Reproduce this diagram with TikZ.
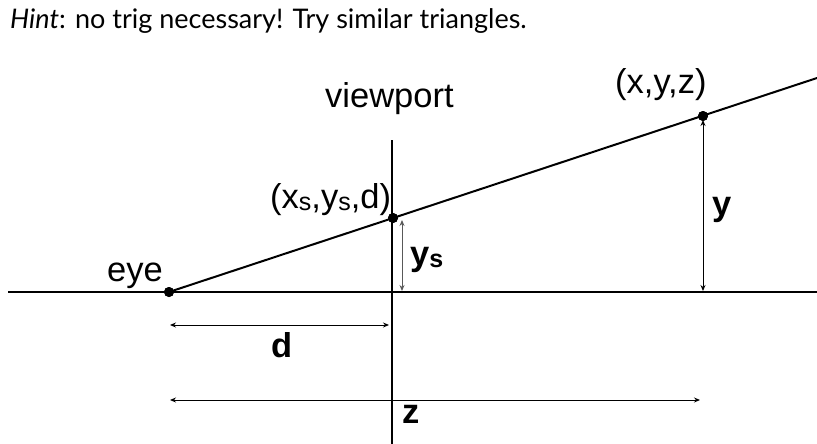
\documentclass[tikz,border=0pt]{standalone}
\usepackage{fontspec}
\setmainfont{Liberation Sans}
\newfontfamily\hintfont{Lato}
\usetikzlibrary{arrows.meta}
\begin{document}
\begin{tikzpicture}[x=1pt,y=-1pt,
  mainline/.style={line width=2pt,black},
  dimline/.style={line width=0.9pt,black,{Stealth[length=6pt,width=5pt]}-{Stealth[length=6pt,width=5pt]}},
  dot/.style={circle,fill=black,inner sep=0pt,minimum size=10pt},
  lbl/.style={inner sep=0pt,font=\fontsize{34.5}{38}\selectfont},
  blbl/.style={inner sep=0pt,font=\fontsize{34.5}{38}\selectfont\bfseries}]
\useasboundingbox (0,0) rectangle (817,444);
% axes
\coordinate (axL) at (8,292);
\coordinate (axR) at (817,292);
\coordinate (vpT) at (392,140);
\coordinate (vpB) at (392,444);
\draw[mainline] (axL) -- (axR);
\draw[mainline] (vpT) -- (vpB);
% ray
\node[dot] (eye) at (169,292) {};
\node[dot] (ps) at (393,218) {};
\node[dot] (p) at (703,116) {};
\coordinate (rayEnd) at (817,78);
\draw[mainline] (eye.center) -- (rayEnd);
\node[dot] at (eye) {};
\node[dot] at (ps) {};
\node[dot] at (p) {};
% dimension arrows
\coordinate (ysT) at (402,220);
\coordinate (ysB) at (402,291);
\draw[dimline,draw=black!65] (ysT) -- (ysB);
\coordinate (yT) at (703,120);
\coordinate (yB) at (703,291);
\draw[dimline] (yT) -- (yB);
\coordinate (dL) at (170,325);
\coordinate (dR) at (389,325);
\draw[dimline] (dL) -- (dR);
\coordinate (zL) at (170,400);
\coordinate (zR) at (700,400);
\draw[dimline] (zL) -- (zR);
% labels
\node[anchor=base west,inner sep=0pt,font=\hintfont\fontsize{27}{31}\selectfont] (hint) at (10,29) {\textit{Hint}: no trig necessary! Try similar triangles.};
\node[lbl,anchor=base west] (vp) at (325,107) {viewport};
\node[lbl,anchor=base west] (eyel) at (107,281) {eye};
\node[lbl,anchor=base west] (pl) at (615,93) {(x,y,z)};
\node[lbl,anchor=base west] (psl) at (270,208) {(x\raisebox{-2pt}{\fontsize{25}{27}\selectfont s},y\raisebox{-2pt}{\fontsize{25}{27}\selectfont s},d)};
\node[blbl,anchor=base west] (ysl) at (410,265) {y\raisebox{-2pt}{\fontsize{25}{27}\selectfont s}};
\node[blbl,anchor=base west] (yl) at (712,215) {y};
\node[blbl,anchor=base west] (dl) at (271,357) {d};
\node[blbl,anchor=base west] (zl) at (402,423) {z};
\end{tikzpicture}
\end{document}
